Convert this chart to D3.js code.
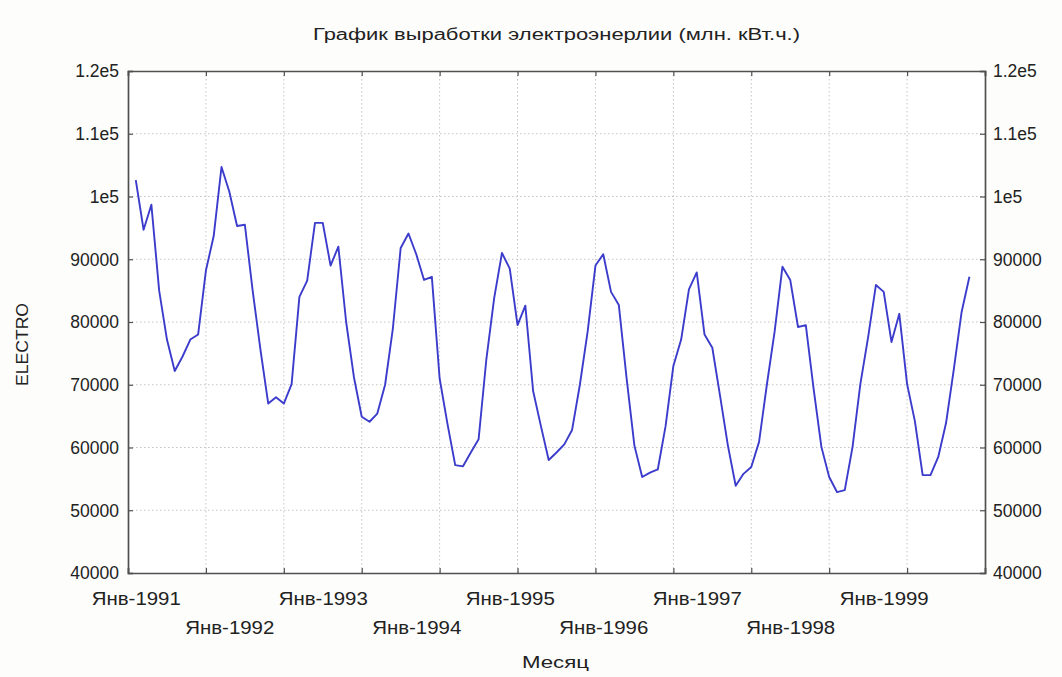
<!DOCTYPE html>
<html>
<head>
<meta charset="utf-8">
<script src="https://cdn.jsdelivr.net/npm/d3@7"></script>
<style>
  html, body { margin: 0; padding: 0; background: #fdfdfb; }
  svg { display: block; }
  text { font-family: "Liberation Sans", Arial, sans-serif; fill: #222; }
</style>
</head>
<body>
<svg id="chart" width="1062" height="677"></svg>
<script>
// ---- Data (monthly electricity production, Jan 1991 .. Dec 1999) ----
const monthIndex = d3.range(1, 109); // case numbers 1..108
const electro = [
  102600, 94700, 98700, 85000, 77200, 72200, 74500, 77200, 78000, 88200, 93700, 104700,
  100800, 95300, 95500, 85000, 75600, 67000, 68000, 67000, 70100, 84000, 86600, 95800,
  95800, 89000, 92000, 80000, 71200, 64900, 64100, 65400, 70000, 79000, 91800, 94100,
  90800, 86700, 87200, 71000, 63800, 57200, 57000, 59200, 61300, 74100, 83800, 91000,
  88500, 79500, 82600, 69000, 63400, 58000, 59200, 60500, 62800, 70000, 78500, 89000,
  90800, 84800, 82700, 71000, 60300, 55300, 56000, 56500, 63400, 73000, 77200, 85200,
  87900, 78000, 75900, 68200, 60300, 53900, 55800, 56900, 60900, 70000, 78500, 88800,
  86700, 79200, 79500, 69400, 60100, 55300, 52900, 53200, 60100, 70100, 77600, 85900,
  84800, 76800, 81300, 70100, 64200, 55600, 55600, 58500, 63900, 72500, 81600, 87200
];
const yTickValues = [40000, 50000, 60000, 70000, 80000, 90000, 100000, 110000, 120000];
const yTickLabels = ["40000", "50000", "60000", "70000", "80000", "90000", "1e5", "1.1e5", "1.2e5"];
const xTickValues = [0, 10, 20, 30, 40, 50, 60, 70, 80, 90, 100, 110];
const xLabelCases = [1, 13, 25, 37, 49, 61, 73, 85, 97];
const xLabels = ["Янв-1991", "Янв-1992", "Янв-1993", "Янв-1994", "Янв-1995", "Янв-1996", "Янв-1997", "Янв-1998", "Янв-1999"];
const titleText = "График выработки электроэнерлии (млн. кВт.ч.)";
const xTitle = "Месяц";
const yTitle = "ELECTRO";

// ---- Layout ----
const svg = d3.select("#chart");
const L = 128, R = 985, T = 71, B = 573;
const x = d3.scaleLinear().domain([0, 110]).range([L, R]);
const y = d3.scaleLinear().domain([40000, 120000]).range([B, T]);

// background
svg.append("rect").attr("width", 1062).attr("height", 677).attr("fill", "#fdfdfb");
svg.append("rect").attr("x", L).attr("y", T).attr("width", R - L).attr("height", B - T).attr("fill", "#ffffff");

// grid
const grid = svg.append("g");
grid.selectAll("line.h").data(yTickValues.slice(1, -1)).join("line")
  .attr("x1", L).attr("x2", R).attr("y1", d => y(d)).attr("y2", d => y(d))
  .attr("stroke", "#c4c4c4").attr("stroke-width", 1).attr("stroke-dasharray", "1.5,2.5");
grid.selectAll("line.v").data(xTickValues.slice(1, -1)).join("line")
  .attr("y1", T).attr("y2", B).attr("x1", d => x(d)).attr("x2", d => x(d))
  .attr("stroke", "#c4c4c4").attr("stroke-width", 1).attr("stroke-dasharray", "1.5,2.5");

// axes (inward ticks, no labels from the axis generators)
const axB = d3.axisBottom(x).tickValues(xTickValues).tickSize(-5).tickFormat("");
const axT = d3.axisTop(x).tickValues(xTickValues).tickSize(-5).tickFormat("");
const axLft = d3.axisLeft(y).tickValues(yTickValues).tickSize(-5).tickFormat("");
const axRgt = d3.axisRight(y).tickValues(yTickValues).tickSize(-5).tickFormat("");
[[axB, `translate(0,${B})`], [axT, `translate(0,${T})`], [axLft, `translate(${L},0)`], [axRgt, `translate(${R},0)`]]
  .forEach(([ax, tr]) => {
    const g = svg.append("g").attr("transform", tr).call(ax);
    g.select(".domain").attr("stroke", "#505050").attr("stroke-width", 1.7);
    g.selectAll(".tick line").attr("stroke", "#505050").attr("stroke-width", 1.2);
  });

// y tick labels on both sides
svg.append("g").selectAll("text").data(yTickValues).join("text")
  .attr("x", L - 9).attr("y", d => y(d)).attr("dy", "0.36em")
  .attr("text-anchor", "end").attr("font-size", 17.5)
  .text((d, i) => yTickLabels[i]);
svg.append("g").selectAll("text").data(yTickValues).join("text")
  .attr("x", R + 8).attr("y", d => y(d)).attr("dy", "0.36em")
  .attr("text-anchor", "start").attr("font-size", 17.5)
  .text((d, i) => yTickLabels[i]);

// x labels, staggered in two rows
svg.append("g").selectAll("text").data(xLabelCases).join("text")
  .attr("x", d => x(d) - 44)
  .attr("y", (d, i) => i % 2 === 0 ? 605 : 634)
  .attr("font-size", 17.5)
  .attr("textLength", 89).attr("lengthAdjust", "spacingAndGlyphs")
  .text((d, i) => xLabels[i]);

// line
const line = d3.line().x((d, i) => x(monthIndex[i])).y(d => y(d));
svg.append("path").datum(electro).attr("d", line)
  .attr("fill", "none").attr("stroke", "#3c3ccc").attr("stroke-width", 1.9)
  .attr("stroke-linejoin", "round");

// titles
svg.append("text").attr("x", 313).attr("y", 40)
  .attr("font-size", 16).attr("textLength", 487).attr("lengthAdjust", "spacingAndGlyphs")
  .text(titleText);
svg.append("text").attr("x", 522).attr("y", 668)
  .attr("font-size", 17).attr("textLength", 67).attr("lengthAdjust", "spacingAndGlyphs")
  .text(xTitle);
svg.append("text").attr("transform", `translate(28,386) rotate(-90)`)
  .attr("font-size", 16).attr("textLength", 83).attr("lengthAdjust", "spacingAndGlyphs")
  .text(yTitle);
</script>
</body>
</html>
